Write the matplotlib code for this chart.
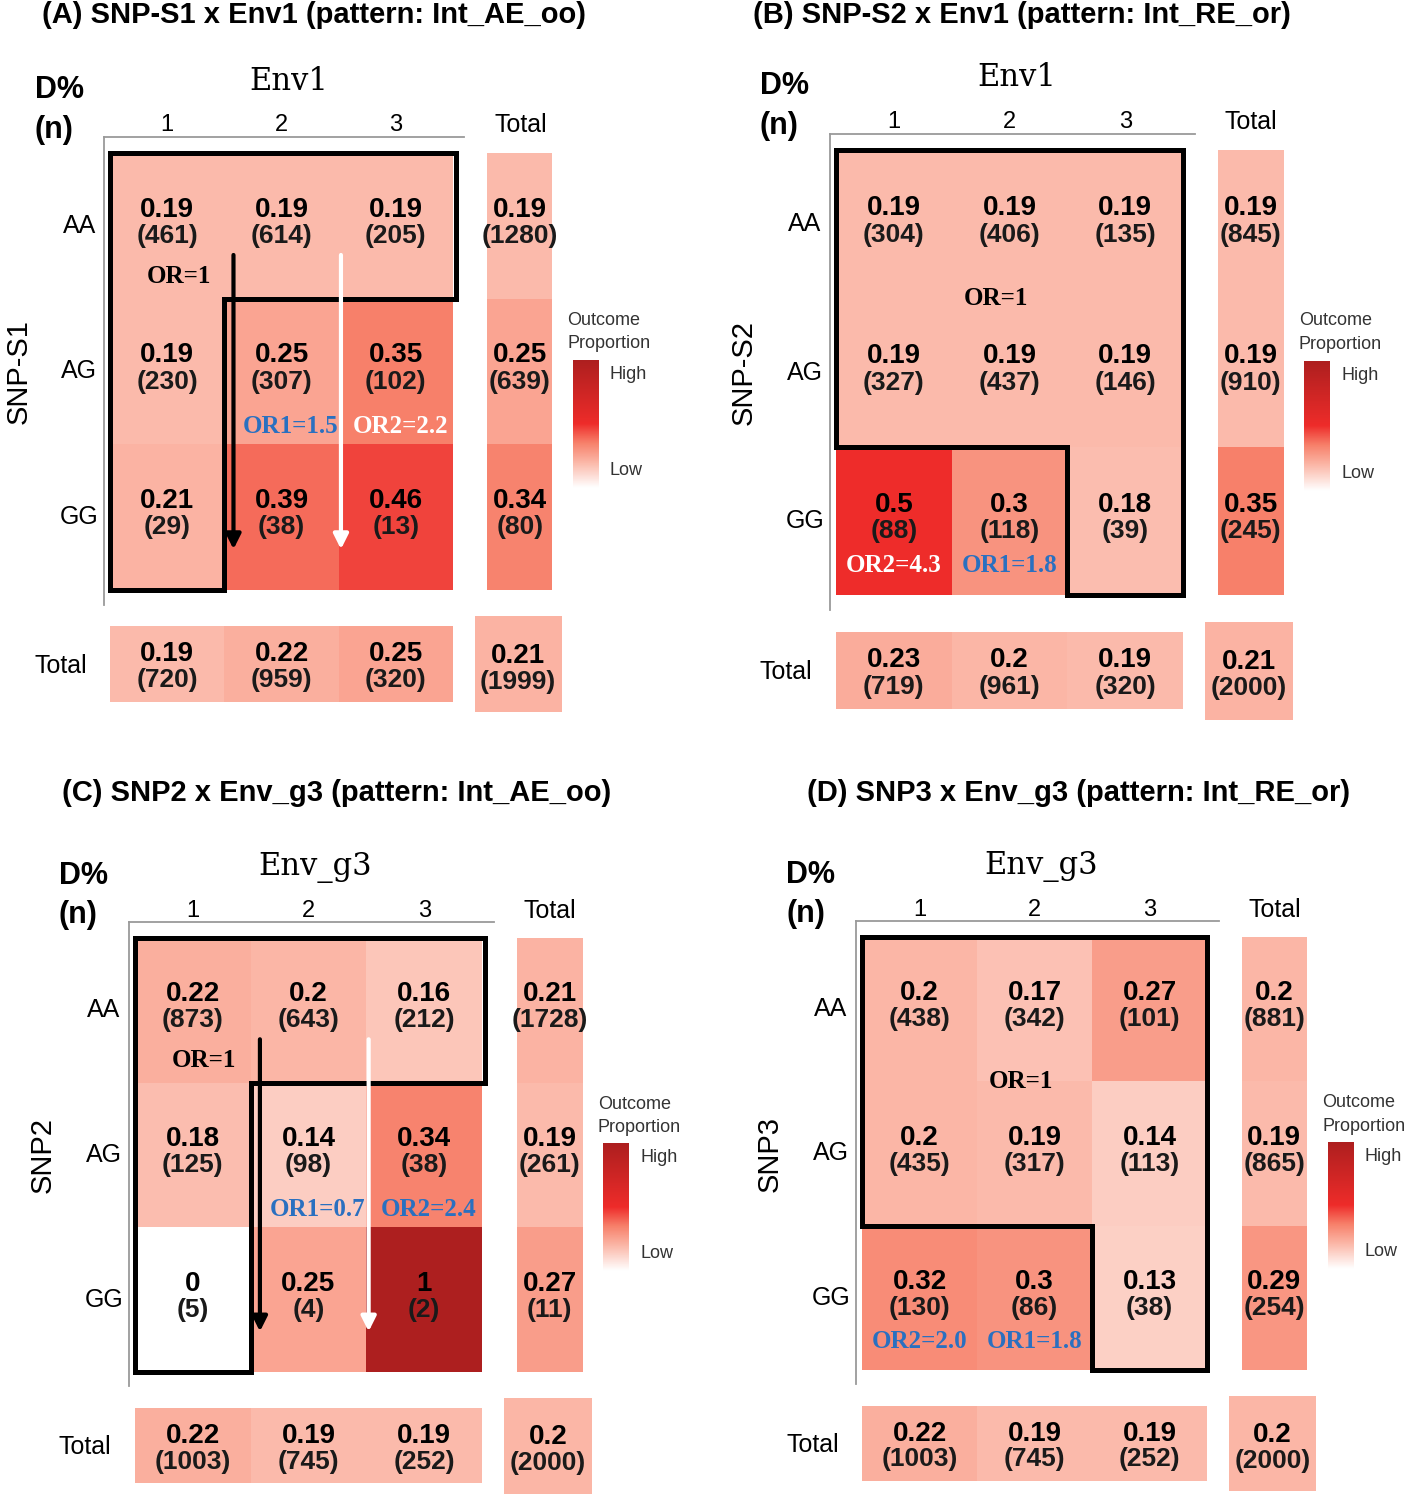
import numpy as np
import matplotlib.pyplot as plt
from matplotlib.colors import LinearSegmentedColormap
from matplotlib.patches import Polygon

plt.rcParams['font.family'] = ['Liberation Sans', 'DejaVu Sans']

genotypes = ['AA', 'AG', 'GG']
env_levels = ['1', '2', '3']

titles = ['(A) SNP-S1 x Env1 (pattern: Int_AE_oo)',
          '(B) SNP-S2 x Env1 (pattern: Int_RE_or)',
          '(C) SNP2 x Env_g3 (pattern: Int_AE_oo)',
          '(D) SNP3 x Env_g3 (pattern: Int_RE_or)']
snp_names = ['SNP-S1', 'SNP-S2', 'SNP2', 'SNP3']
env_names = ['Env1', 'Env1', 'Env_g3', 'Env_g3']
patterns = ['AE_oo', 'RE_or', 'AE_oo', 'RE_or']

# proportions / counts, rows = AA, AG, GG ; cols = env 1,2,3
props_a = [[0.19, 0.19, 0.19], [0.19, 0.25, 0.35], [0.21, 0.39, 0.46]]
counts_a = [[461, 614, 205], [230, 307, 102], [29, 38, 13]]
rowtot_a = [0.19, 0.25, 0.34]
rowtot_n_a = [1280, 639, 80]
coltot_a = [0.19, 0.22, 0.25]
coltot_n_a = [720, 959, 320]
grand_a = [0.21, 1999]
or_a = ['OR=1', 'OR1=1.5', 'OR2=2.2']

props_b = [[0.19, 0.19, 0.19], [0.19, 0.19, 0.19], [0.5, 0.3, 0.18]]
counts_b = [[304, 406, 135], [327, 437, 146], [88, 118, 39]]
rowtot_b = [0.19, 0.19, 0.35]
rowtot_n_b = [845, 910, 245]
coltot_b = [0.23, 0.2, 0.19]
coltot_n_b = [719, 961, 320]
grand_b = [0.21, 2000]
or_b = ['OR=1', 'OR2=4.3', 'OR1=1.8']

props_c = [[0.22, 0.2, 0.16], [0.18, 0.14, 0.34], [0, 0.25, 1]]
counts_c = [[873, 643, 212], [125, 98, 38], [5, 4, 2]]
rowtot_c = [0.21, 0.19, 0.27]
rowtot_n_c = [1728, 261, 11]
coltot_c = [0.22, 0.19, 0.19]
coltot_n_c = [1003, 745, 252]
grand_c = [0.2, 2000]
or_c = ['OR=1', 'OR1=0.7', 'OR2=2.4']

props_d = [[0.2, 0.17, 0.27], [0.2, 0.19, 0.14], [0.32, 0.3, 0.13]]
counts_d = [[438, 342, 101], [435, 317, 113], [130, 86, 38]]
rowtot_d = [0.2, 0.19, 0.29]
rowtot_n_d = [881, 865, 254]
coltot_d = [0.22, 0.19, 0.19]
coltot_n_d = [1003, 745, 252]
grand_d = [0.2, 2000]
or_d = ['OR=1', 'OR2=2.0', 'OR1=1.8']

cmap = LinearSegmentedColormap.from_list(
    'outcome', [(0, '#ffffff'), (0.2, '#fbb6a6'), (0.35, '#f7806a'),
                (0.5, '#ee2c2a'), (1.0, '#ad1f1f')])

W, H = 1424, 1500
fig = plt.figure(figsize=(W / 100, H / 100), dpi=100)

# grid boxes in pixels: left, right, top, bottom
boxes = [(110, 453, 153, 590), (836, 1183, 150, 595),
         (135, 482, 938, 1372), (862, 1207, 937, 1370)]
title_pos = [(314, 15), (1022, 15), (337, 793), (1079, 793)]

BLUE = '#2a70c0'
or_colors_a = ['black', BLUE, 'white']
or_colors_b = ['black', 'white', BLUE]
or_colors_c = ['black', BLUE, BLUE]
or_colors_d = ['black', BLUE, BLUE]
or_places = {'AE_oo': [(0.6, 0.85), (1.58, 1.88), (2.54, 1.88)],
             'RE_or': [(1.38, 1.0), (0.5, 2.8), (1.5, 2.8)]}
outlines = {'AE_oo': [(0, 0), (3.03, 0), (3.03, 1), (1, 1), (1, 3), (0, 3)],
            'RE_or': [(0, 0), (3, 0), (3, 3), (2, 3), (2, 2), (0, 2)]}


def fmt(v):
    return f'{v:g}'


def cell_text(ax, x, y, v, n, fs=20):
    ax.text(x, y - 0.11, fmt(v), ha='center', va='center', fontsize=fs,
            fontweight='bold', clip_on=False)
    ax.text(x, y + 0.07, f'({n})', ha='center', va='center', fontsize=fs - 1,
            fontweight='bold', color='#1a1a1a', clip_on=False)


def draw_panel(i, props, counts, rowtot, rowtot_n, coltot, coltot_n, grand,
               or_labels, ocolors):
    l, r, t, b = boxes[i]
    ax = fig.add_axes([l / W, 1 - b / H, (r - l) / W, (b - t) / H])
    ax.set_xlim(0, 3)
    ax.set_ylim(3, 0)
    ax.axis('off')
    props = np.array(props, dtype=float)

    ax.pcolormesh(np.arange(4), np.arange(4), props, cmap=cmap, vmin=0, vmax=1)
    # totals
    m2 = ax.pcolormesh([3.3, 3.87], np.arange(4), np.array(rowtot)[:, None],
                       cmap=cmap, vmin=0, vmax=1)
    m3 = ax.pcolormesh(np.arange(4), [3.25, 3.77], np.array(coltot)[None, :],
                       cmap=cmap, vmin=0, vmax=1)
    m4 = ax.pcolormesh([3.19, 3.95], [3.18, 3.84], np.array([[grand[0]]]),
                       cmap=cmap, vmin=0, vmax=1)
    for q in (m2, m3, m4):
        q.set_clip_on(False)

    for r_ in range(3):
        for c in range(3):
            cell_text(ax, c + 0.5, r_ + 0.5, props[r_, c], counts[r_][c])
        cell_text(ax, 3.585, r_ + 0.5, rowtot[r_], rowtot_n[r_])
    for c in range(3):
        cell_text(ax, c + 0.5, 3.55, coltot[c], coltot_n[c])
    cell_text(ax, 3.57, 3.56, grand[0], grand[1])

    # gray axis lines
    ax.plot([-0.05, -0.05], [-0.11, 3.1], color='#9a9a9a', lw=1.3, clip_on=False)
    ax.plot([-0.05, 3.1], [-0.11, -0.11], color='#9a9a9a', lw=1.3, clip_on=False)

    for c, lab in enumerate(env_levels):
        ax.text(c + 0.5, -0.19, lab, ha='center', va='center', fontsize=17,
                clip_on=False)
    ax.text(3.59, -0.19, 'Total', ha='center', va='center', fontsize=18, clip_on=False)
    for r_, lab in enumerate(genotypes):
        ax.text(-0.27, r_ + 0.5, lab, ha='center', va='center', fontsize=18,
                clip_on=False)
    ax.text(-0.43, 3.52, 'Total', ha='center', va='center', fontsize=18, clip_on=False)
    ax.text(1.56, -0.49, env_names[i], ha='center', va='center', fontsize=22,
            family='DejaVu Serif', clip_on=False)
    ax.text(-0.8, 1.5, snp_names[i], ha='center', va='center', fontsize=21,
            rotation=90, clip_on=False)
    ax.text(-0.66, -0.43, 'D%', ha='left', va='center', fontsize=22,
            fontweight='bold', clip_on=False)
    ax.text(-0.66, -0.16, '(n)', ha='left', va='center', fontsize=22,
            fontweight='bold', clip_on=False)

    # outline of reference region
    pat = patterns[i]
    ax.add_patch(Polygon(outlines[pat], closed=True, fill=False, ec='black',
                         lw=3.6, joinstyle='miter', clip_on=False))

    for lab, (x, y), col in zip(or_labels, or_places[pat], ocolors):
        ax.text(x, y, lab, ha='center', va='center', fontsize=18, color=col,
                fontweight='bold', family='Liberation Serif', clip_on=False)

    if pat == 'AE_oo':
        ax.annotate('', xy=(1.08, 2.72), xytext=(1.08, 0.7),
                    arrowprops=dict(arrowstyle='-|>', color='black', lw=3,
                                    mutation_scale=22, shrinkA=0, shrinkB=0))
        ax.annotate('', xy=(2.02, 2.72), xytext=(2.02, 0.7),
                    arrowprops=dict(arrowstyle='-|>', color='white', lw=3,
                                    mutation_scale=22, shrinkA=0, shrinkB=0))

    # colour legend
    cax = ax.inset_axes([4.05 / 3, 1 - 2.3 / 3, 0.22 / 3, 0.88 / 3])
    grad = np.linspace(1, 0, 200)[:, None]
    cax.imshow(grad, cmap=cmap, vmin=0, vmax=1, aspect='auto')
    cax.axis('off')
    ax.text(4.0, 1.15, 'Outcome', ha='left', va='center', fontsize=13,
            color='#333333', clip_on=False)
    ax.text(4.0, 1.31, 'Proportion', ha='left', va='center', fontsize=13,
            color='#333333', clip_on=False)
    ax.text(4.37, 1.52, 'High', ha='left', va='center', fontsize=13,
            color='#333333', clip_on=False)
    ax.text(4.37, 2.18, 'Low', ha='left', va='center', fontsize=13,
            color='#333333', clip_on=False)

    tx, ty = title_pos[i]
    fig.text(tx / W, 1 - ty / H, titles[i], ha='center', va='center',
             fontsize=21, fontweight='bold')


draw_panel(0, props_a, counts_a, rowtot_a, rowtot_n_a, coltot_a, coltot_n_a,
           grand_a, or_a, or_colors_a)
draw_panel(1, props_b, counts_b, rowtot_b, rowtot_n_b, coltot_b, coltot_n_b,
           grand_b, or_b, or_colors_b)
draw_panel(2, props_c, counts_c, rowtot_c, rowtot_n_c, coltot_c, coltot_n_c,
           grand_c, or_c, or_colors_c)
draw_panel(3, props_d, counts_d, rowtot_d, rowtot_n_d, coltot_d, coltot_n_d,
           grand_d, or_d, or_colors_d)

plt.savefig('out.png', dpi=100)
